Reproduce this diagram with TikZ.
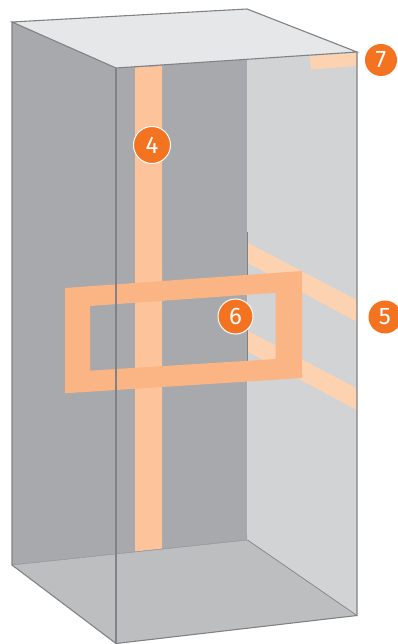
\documentclass[tikz,border=0pt]{standalone}
\usepackage{fontspec}
\setmainfont{Fira Sans}
\definecolor{wallL}{HTML}{A7A9AC}
\definecolor{wallR}{HTML}{D1D3D4}
\definecolor{topf}{HTML}{E6E7E8}
\definecolor{floorf}{HTML}{BCBEC0}
\definecolor{edge}{HTML}{808285}
\definecolor{stripA}{HTML}{FDC39A}
\definecolor{stripB}{HTML}{FDD2B0}
\definecolor{frameO}{HTML}{FBB584}
\definecolor{badge}{HTML}{F47320}
\tikzset{
  edgeline/.style={draw=edge,line width=1.1pt,line join=miter},
  ringbadge/.style={circle,fill=badge,draw=white,line width=1pt,text=white,inner sep=0pt,font=\fontsize{24}{24}\selectfont},
  flatbadge/.style={ringbadge,draw=none},
}
\begin{document}
\begin{tikzpicture}[x=1pt,y=-1pt]
\useasboundingbox (0,0) rectangle (398,644);
% named corners
\coordinate (A) at (12,22);
\coordinate (B) at (247,9);
\coordinate (C) at (357,52);
\coordinate (D) at (116,68);
\coordinate (E) at (12,565);
\coordinate (F) at (247.5,540);
\coordinate (G) at (357,615.5);
\coordinate (H) at (116,643.5);
% walls
\fill[wallL] (A) -- (B) -- (F) -- (E) -- cycle;
\fill[wallR] (B) -- (C) -- (G) -- (F) -- cycle;
\fill[floorf] (E) -- (F) -- (G) -- (H) -- cycle;
\fill[topf] (A) -- (B) -- (C) -- (D) -- cycle;
% vertical strip
\fill[stripA] (135,67.5) -- (162,66) -- (162,548.5) -- (135,551.5) -- cycle;
% top patch
\fill[stripB] (310,56) -- (357,53) -- (357,66) -- (311,69.5) -- cycle;
% bands on the right wall
\fill[stripB] (247.7,242.7) -- (356.7,300) -- (356.7,321.7) -- (247.7,263) -- cycle;
\fill[stripB] (247.7,330.7) -- (356.7,388.3) -- (356.7,410) -- (247.7,351.7) -- cycle;
% thin lines
\coordinate (t1) at (247.5,232);
\coordinate (t2) at (247.5,280);
\coordinate (t3) at (247.5,330);
\coordinate (t4) at (247.5,366);
\draw[edge,line width=.8pt] (t1) -- (t2) (t3) -- (t4);
% frame
\fill[frameO,even odd rule] (65,288) -- (302,271) -- (302,378) -- (65,393.3) -- cycle
  (90,306) -- (275.7,292.7) -- (275.7,359) -- (90,370.7) -- cycle;
% edges
\draw[edge,line width=.7pt] (F) -- (G);
\draw[edge,line width=.4pt] (E) -- (F);
\draw[edgeline] (A) -- (B) -- (C) -- (D) -- cycle;
\draw[edgeline] (A) -- (E) -- (H) -- (G) -- (C);
\draw[edgeline,line width=1.4pt] (D) -- (H);
% badges
\node[ringbadge,minimum size=37pt] (n4) at (152,145) {4};
\node[ringbadge,minimum size=35pt] (n6) at (235.5,316.5) {6};
\node[flatbadge,minimum size=32pt] (n7) at (381,60) {7};
\node[flatbadge,minimum size=33pt] (n5) at (385,317) {5};
\end{tikzpicture}
\end{document}
